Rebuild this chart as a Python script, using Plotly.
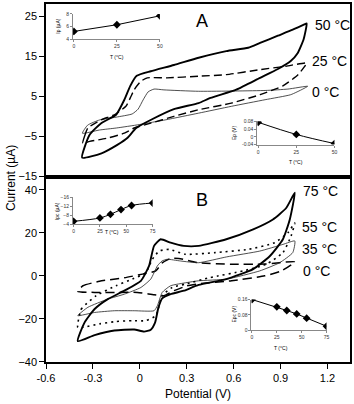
import plotly.graph_objects as go

# ---- panel A: cyclic voltammograms (potential V, current uA)
a50_E = [-0.369, -0.321, -0.247, -0.152, -0.099, -0.061, -0.020, 0.070, 0.218, 0.376, 0.553, 0.693, 0.769, 0.883, 0.978, 1.052, 1.067,
         1.048, 1.010, 0.965, 0.883, 0.769, 0.617, 0.452, 0.376, 0.218, 0.072, -0.023, -0.080, -0.144, -0.245, -0.369]
a50_I = [-10.3, -4.6, -1.7, 0.4, 4.15, 7.6, 10.1, 11.25, 12.8, 14.6, 16.25, 17.1, 18.3, 20.1, 21.6, 22.9, 23.15,
         19.3, 15.8, 13.8, 11.8, 9.6, 6.65, 4.6, 3.3, 1.8, -0.85, -2.9, -5.4, -7.1, -9.2, -10.3]

a25_E = [-0.365, -0.353, -0.332, -0.247, -0.163, -0.089, -0.061, -0.036, 0.007, 0.048, 0.173, 0.376, 0.553, 0.769, 0.934, 1.067,
         1.054, 1.010, 0.915, 0.769, 0.585, 0.376, 0.218, 0.070, -0.036, -0.099, -0.205, -0.321, -0.365]
a25_I = [-6.7, -4.9, -2.9, -0.85, 0.4, 2.5, 4.6, 6.65, 8.75, 9.6, 9.6, 10.0, 10.4, 11.65, 12.5, 13.3,
         12.45, 10.3, 7.6, 5.4, 3.3, 1.65, 0.0, -1.7, -2.9, -4.2, -5.4, -6.25, -6.7]

a0_E = [-0.367, -0.334, -0.258, -0.152, -0.049, -0.011, 0.021, 0.053, 0.091, 0.154, 0.376, 0.801, 0.947, 1.073,
        1.042, 0.965, 0.801, 0.585, 0.376, 0.167, -0.004, -0.150, -0.258, -0.367]
a0_I = [-4.2, -2.2, -0.9, -0.2, 0.6, 1.8, 4.1, 6.1, 6.8, 6.6, 6.25, 6.45, 6.8, 7.5,
        6.8, 5.4, 4.15, 2.5, 0.8, -0.85, -2.05, -2.9, -3.4, -4.2]

# ---- panel B
b75_E = [-0.397, -0.353, -0.289, -0.205, -0.099, 0.007, 0.059, 0.091, 0.133, 0.197, 0.281, 0.376, 0.553, 0.725, 0.851, 0.936, 0.991,
         0.959, 0.915, 0.832, 0.725, 0.553, 0.376, 0.281, 0.197, 0.143, 0.118, 0.098, 0.070, 0.027, -0.036, -0.163, -0.289, -0.397]
b75_I = [-30.3, -21.6, -15.4, -10.8, -6.9, -2.3, 4.6, 13.9, 17.0, 15.4, 13.9, 13.9, 17.0, 21.6, 26.2, 31.5, 38.6,
         26.2, 17.0, 9.2, 3.1, -1.5, -4.2, -6.9, -8.5, -10.5, -15.0, -21.6, -25.0, -25.9, -24.9, -25.4, -27.5, -30.3]

b55_E = [-0.397, -0.374, -0.279, -0.152, -0.047, 0.038, 0.080, 0.123, 0.186, 0.292, 0.482, 0.693, 0.862, 0.947, 0.991,
         0.967, 0.915, 0.809, 0.661, 0.450, 0.292, 0.207, 0.143, 0.102, 0.038, -0.047, -0.152, -0.258, -0.364, -0.397]
b55_I = [-24.0, -15.4, -9.2, -4.6, -1.5, 1.5, 7.7, 11.5, 12.3, 10.0, 10.8, 12.3, 15.4, 20.0, 24.6,
         18.5, 10.8, 5.4, 2.3, -0.8, -3.8, -5.4, -9.2, -18.5, -20.8, -20.8, -21.2, -22.3, -23.9, -24.0]

b35_E = [-0.397, -0.332, -0.205, -0.099, 0.007, 0.070, 0.112, 0.142, 0.175, 0.260, 0.376, 0.555, 0.767, 0.915, 0.991,
         0.978, 0.894, 0.767, 0.555, 0.376, 0.302, 0.197, 0.143, 0.112, 0.091, -0.036, -0.163, -0.289, -0.397]
b35_I = [-18.5, -14.6, -10.8, -8.5, -5.4, -1.5, 4.6, 6.9, 7.7, 6.9, 6.1, 8.8, 11.5, 14.6, 16.2,
         10.8, 6.1, 2.3, -1.5, -2.3, -3.1, -4.6, -7.7, -13.9, -16.2, -16.2, -16.2, -17.0, -18.5]

b0_E = [-0.397, -0.364, -0.258, -0.099, 0.017, 0.102, 0.143, 0.197, 0.249, 0.376, 0.587, 0.799, 0.991,
        0.904, 0.799, 0.587, 0.376, 0.302, 0.218, 0.154, 0.091, -0.015, -0.142, -0.289, -0.397]
b0_I = [-7.2, -4.6, -2.5, -0.9, 0.8, 2.3, 6.0, 8.1, 8.1, 6.1, 5.4, 5.5, 6.5,
        2.3, 0.0, -2.3, -3.7, -4.6, -6.9, -9.2, -8.8, -7.7, -7.7, -7.7, -7.2]

# ---- insets
tA = [0, 25, 50]
ipA = [5.25, 6.3, 7.7]
epA = [0.075, 0.012, -0.035]
tB = [0, 25, 35, 45, 55, 75]
ipcB = [-5.4, -6.9, -8.5, -10.6, -12.4, -13.5]
epcB = [0.16, 0.122, 0.103, 0.085, 0.063, 0.021]

FONT = "Arial, Liberation Sans, sans-serif"

fig = go.Figure()

def cv(x, y, xa, ya, width, dash, color="black"):
    fig.add_trace(go.Scatter(x=x, y=y, xaxis=xa, yaxis=ya, mode="lines",
                             line=dict(color=color, width=width, dash=dash, shape="spline", smoothing=0.5),
                             showlegend=False, hoverinfo="skip"))

cv(a0_E, a0_I, "x2", "y2", 0.8, "solid", "#222")
cv(a25_E, a25_I, "x2", "y2", 1.4, "8px,4px")
cv(a50_E, a50_I, "x2", "y2", 1.9, "solid")

cv(b0_E, b0_I, "x", "y", 1.5, "9px,5px")
cv(b35_E, b35_I, "x", "y", 0.8, "solid", "#222")
cv(b55_E, b55_I, "x", "y", 1.6, "2px,4px")
cv(b75_E, b75_I, "x", "y", 1.9, "solid")

def inset(x, y, xa, ya, shape="linear"):
    fig.add_trace(go.Scatter(x=x, y=y, xaxis=xa, yaxis=ya, mode="lines+markers",
                             line=dict(color="black", width=1, shape=shape),
                             marker=dict(symbol="diamond", size=6, color="black"),
                             showlegend=False, hoverinfo="skip"))

inset(tA, ipA, "x3", "y3")
inset(tA, epA, "x4", "y4", "spline")
inset(tB, ipcB, "x5", "y5", "spline")
inset(tB, epcB, "x6", "y6")

main_ax = dict(showline=True, mirror=True, linecolor="black", linewidth=1.5, showgrid=False, zeroline=False,
               ticks="outside", ticklen=5, tickcolor="black", tickfont=dict(family=FONT, size=11, color="black"))
ins_ax = dict(showline=True, linecolor="#888", linewidth=1, showgrid=False, zeroline=False,
              ticks="outside", ticklen=2, tickcolor="#888", tickfont=dict(family=FONT, size=5, color="#333"))

fig.update_layout(
    width=354, height=404,
    margin=dict(l=46, r=1, t=1, b=42),
    paper_bgcolor="white", plot_bgcolor="white",
    xaxis=dict(main_ax, domain=[0, 1], range=[-0.6, 1.344], anchor="y",
               tickvals=[-0.6, -0.3, 0, 0.3, 0.6, 0.9, 1.2],
               ticktext=["-0.6", "-0.3", "0", "0.3", "0.6", "0.9", "1.2"]),
    yaxis=dict(main_ax, domain=[0, 0.518], range=[-40, 46.1], anchor="x",
               tickvals=[-40, -20, 0, 20, 40]),
    xaxis2=dict(main_ax, domain=[0, 1], range=[-0.6, 1.344], anchor="y2", ticks="", showticklabels=False),
    yaxis2=dict(main_ax, domain=[0.518, 1], range=[-15, 28.0], anchor="x2",
                tickvals=[-15, -5, 5, 15, 25]),
    xaxis3=dict(ins_ax, domain=[0.0889, 0.3746], range=[-0.5, 50], anchor="y3", tickvals=[0, 25, 50]),
    yaxis3=dict(ins_ax, domain=[0.9011, 0.9723], range=[4, 8], anchor="x3", tickvals=[4, 6, 8]),
    xaxis4=dict(ins_ax, domain=[0.6954, 0.9489], range=[-0.5, 50], anchor="y4", tickvals=[0, 25, 50]),
    yaxis4=dict(ins_ax, domain=[0.6075, 0.6723], range=[-0.04, 0.08], anchor="x4",
                tickvals=[-0.04, 0, 0.04, 0.08], ticktext=["-0.04", "0", "0.04", "0.08"]),
    xaxis5=dict(ins_ax, domain=[0.0889, 0.3508], range=[-0.5, 75], anchor="y5", tickvals=[0, 25, 50, 75]),
    yaxis5=dict(ins_ax, domain=[0.3842, 0.4598], range=[-4, -16], anchor="x5", tickvals=[-16, -12, -8, -4]),
    xaxis6=dict(ins_ax, domain=[0.6759, 0.9228], range=[-0.5, 75], anchor="y6", tickvals=[0, 25, 50, 75]),
    yaxis6=dict(ins_ax, domain=[0.0886, 0.1745], range=[0, 0.16], anchor="x6",
                tickvals=[0, 0.08, 0.16], ticktext=["0", "0.08", "0.16"]),
)

def note(text, x, y, size, angle=0, xanchor="center"):
    fig.add_annotation(text=text, x=x, y=y, xref="paper", yref="paper", showarrow=False,
                       textangle=angle, xanchor=xanchor, yanchor="middle",
                       font=dict(family=FONT, size=size, color="black"))

note("Current (µA)", -0.117, 0.515, 12, -90)
note("Potential (V)", 0.5, -0.09, 12)
note("A", 0.5147, 0.952, 18)
note("B", 0.5147, 0.452, 18)
note("50 °C", 0.8795, 0.9427, 14, xanchor="left")
note("25 °C", 0.8697, 0.8413, 14, xanchor="left")
note("0 °C", 0.8697, 0.7554, 14, xanchor="left")
note("75 °C", 0.8404, 0.4765, 14, xanchor="left")
note("55 °C", 0.8339, 0.3776, 14, xanchor="left")
note("35 °C", 0.8339, 0.3158, 14, xanchor="left")
note("0 °C", 0.8404, 0.2548, 14, xanchor="left")

note("Ip (µA)", 0.0391, 0.939, 5, -90)
note("T (°C)", 0.2345, 0.8532, 5)
note("Ep (V)", 0.619, 0.6399, 5, -90)
note("T (°C)", 0.8208, 0.5596, 5)
note("Ipc (µA)", 0.0358, 0.421, 5, -90)
note("T (°C)", 0.2182, 0.3629, 5)
note("Epc (V)", 0.619, 0.133, 5, -90)
note("T (°C)", 0.772, 0.0388, 5)

# page body has an 8px default margin; drop it so the figure sits at the window's corner
fig.write_html("out.html", config={"displayModeBar": False},
               post_script="document.body.style.margin='0';")
